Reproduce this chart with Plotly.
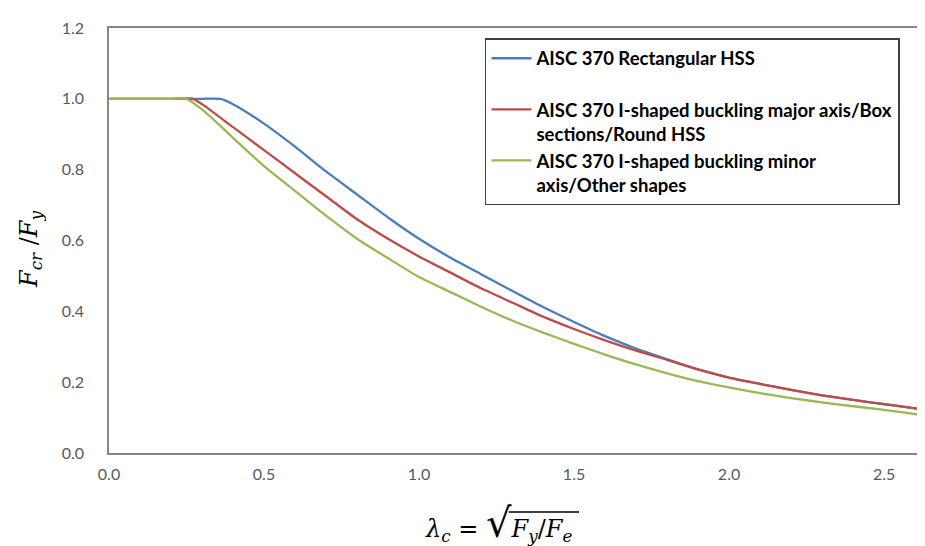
import plotly.graph_objects as go

# Slenderness values (lambda_c) and Fcr/Fy
lam_blue = [0.0, 0.1, 0.2, 0.3, 0.36, 0.4, 0.5, 0.6, 0.7, 0.8, 0.9, 1.0, 1.1, 1.2, 1.3, 1.4, 1.5,
            1.6, 1.7, 1.8, 1.9, 2.0, 2.1, 2.2, 2.3, 2.4, 2.5, 2.6, 2.65]
fcr_blue = [1.0, 1.0, 1.0, 1.0, 1.0, 0.985, 0.93, 0.865, 0.795, 0.73, 0.665, 0.605, 0.552, 0.505,
            0.458, 0.412, 0.37, 0.33, 0.295, 0.265, 0.236, 0.213, 0.195, 0.178, 0.163, 0.150,
            0.138, 0.126, 0.121]

lam_red = [0.0, 0.1, 0.2, 0.27, 0.3, 0.4, 0.5, 0.6, 0.7, 0.8, 0.9, 1.0, 1.1, 1.2, 1.3, 1.4, 1.5,
           1.6, 1.7, 1.8, 1.9, 2.0, 2.1, 2.2, 2.3, 2.4, 2.5, 2.6, 2.65]
fcr_red = [1.0, 1.0, 1.0, 1.0, 0.985, 0.92, 0.855, 0.79, 0.725, 0.66, 0.605, 0.555, 0.51, 0.465,
           0.425, 0.385, 0.35, 0.318, 0.289, 0.263, 0.236, 0.213, 0.195, 0.178, 0.163, 0.150,
           0.138, 0.126, 0.121]

lam_green = [0.0, 0.1, 0.2, 0.25, 0.3, 0.4, 0.5, 0.6, 0.7, 0.8, 0.9, 1.0, 1.1, 1.2, 1.3, 1.4, 1.5,
             1.6, 1.7, 1.8, 1.9, 2.0, 2.1, 2.2, 2.3, 2.4, 2.5, 2.6, 2.65]
fcr_green = [1.0, 1.0, 1.0, 1.0, 0.97, 0.89, 0.81, 0.74, 0.67, 0.605, 0.55, 0.497, 0.455, 0.413,
             0.374, 0.34, 0.308, 0.278, 0.25, 0.225, 0.203, 0.185, 0.169, 0.155, 0.143, 0.132,
             0.122, 0.11, 0.105]

names = ["AISC 370 Rectangular HSS<br> ",
         "AISC 370 I-shaped buckling major axis/Box<br>sections/Round HSS",
         "AISC 370 I-shaped buckling minor<br>axis/Other shapes"]
colors = ["#4A7EBB", "#BE4B48", "#98B954"]

x_ticks = [0.0, 0.5, 1.0, 1.5, 2.0, 2.5]
x_ticktext = ["0.0", "0.5", "1.0", "1.5", "2.0", "2.5"]
y_ticks = [0.0, 0.2, 0.4, 0.6, 0.8, 1.0, 1.2]
y_ticktext = ["0.0", "0.2", "0.4", "0.6", "0.8", "1.0", "1.2"]

fig = go.Figure()
for lx, ly, nm, c in [(lam_blue, fcr_blue, names[0], colors[0]),
                      (lam_red, fcr_red, names[1], colors[1]),
                      (lam_green, fcr_green, names[2], colors[2])]:
    fig.add_trace(go.Scatter(x=lx, y=ly, mode="lines", name=nm,
                             line=dict(color=c, width=2.3, shape="spline", smoothing=0.6)))

axis_common = dict(showline=True, linecolor="#868686", linewidth=1.5, mirror=True,
                   showgrid=False, zeroline=False, ticks="", automargin=False,
                   tickfont=dict(family="Lato", size=16, color="#595959"))

fig.update_layout(
    width=925, height=546,
    margin=dict(l=101, r=4, t=20, b=101),
    paper_bgcolor="white", plot_bgcolor="white",
    xaxis=dict(range=[0, 2.645], tickvals=x_ticks, ticktext=x_ticktext,
               ticklabelstandoff=6, **axis_common),
    yaxis=dict(range=[0, 1.2], tickvals=y_ticks, ticktext=y_ticktext,
               ticklabelstandoff=20, **axis_common),
    legend=dict(x=0.4585, y=0.976, xanchor="left", yanchor="top",
                bordercolor="#404040", borderwidth=1.5, bgcolor="white",
                font=dict(family="Lato", size=18.5, color="black", weight="bold"),
                valign="top", itemwidth=40, tracegroupgap=0),
    showlegend=True,
)

serif = dict(family="DejaVu Serif", color="black")
# y-axis title
fig.add_annotation(xref="paper", yref="paper", x=-0.095, y=0.478, xanchor="center", yanchor="middle",
                   text="<i>F</i><sub><i>cr</i></sub> /<i>F</i><sub><i>y</i></sub>",
                   textangle=-90, showarrow=False, font=dict(size=24, **serif))
# x-axis title: λc = √(Fy/Fe)
fig.add_annotation(xref="paper", yref="paper", x=0.4745, y=-0.165, xanchor="center", yanchor="middle",
                   text=("<i>λ</i><sub><i>c</i></sub> = <span style='font-size:40px'>√</span>"
                         "<i>F</i><sub><i>y</i></sub>/<i>F</i><sub><i>e</i></sub>"),
                   showarrow=False, font=dict(size=24, **serif))
fig.add_shape(type="line", xref="paper", yref="paper", x0=0.4875, x1=0.5732, y0=-0.139, y1=-0.139,
              line=dict(color="black", width=1.5))

fig.write_html("out.html")
